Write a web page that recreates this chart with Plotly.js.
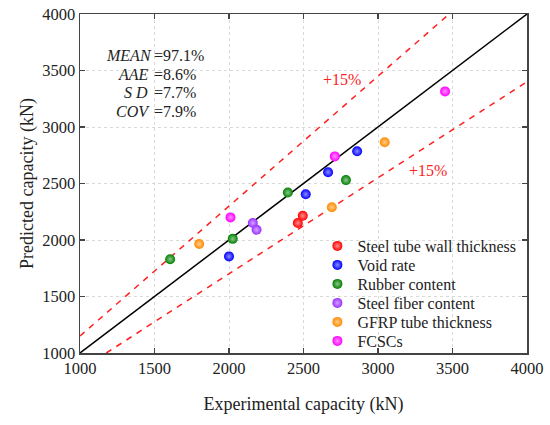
<!DOCTYPE html>
<html>
<head>
<meta charset="utf-8">
<script src="https://cdn.plot.ly/plotly-3.0.1.min.js"></script>
<style>html,body{margin:0;padding:0;background:#fff;}#chart{width:550px;height:425px;}</style>
</head>
<body>
<div id="chart"></div>
<script>
// Data (kN)
const seriesNames = ["Steel tube wall thickness","Void rate","Rubber content","Steel fiber content","GFRP tube thickness","FCSCs"];
const seriesColors = ["#ff0000","#0000ff","#008000","#9b30ff","#ff8c00","#ff00ff"];
const steelTubeExp = [2462, 2495];
const steelTubePred = [2150, 2215];
const voidRateExp = [2000, 2515, 2665, 2860];
const voidRatePred = [1855, 2405, 2600, 2785];
const rubberExp = [1605, 2025, 2395, 2785];
const rubberPred = [1830, 2010, 2420, 2530];
const steelFiberExp = [2160, 2185];
const steelFiberPred = [2150, 2090];
const gfrpExp = [1800, 2690, 3045];
const gfrpPred = [1965, 2290, 2865];
const fcscExp = [2010, 2710, 3450];
const fcscPred = [2200, 2740, 3315];
const refRange = [1000, 4000];
const upperFactor = 1.15;
const lowerFactor = 0.85;
const statLabels = ["MEAN", "AAE", "S D", "COV"];
const statValues = ["=97.1%", "=8.6%", "=7.7%", "=7.9%"];
const tickVals = [1000, 1500, 2000, 2500, 3000, 3500, 4000];

const xs = [steelTubeExp, voidRateExp, rubberExp, steelFiberExp, gfrpExp, fcscExp];
const ys = [steelTubePred, voidRatePred, rubberPred, steelFiberPred, gfrpPred, fcscPred];

function lighten(hex, f) {
  const n = parseInt(hex.slice(1), 16);
  let r = (n >> 16) & 255, g = (n >> 8) & 255, b = n & 255;
  r = Math.round(r + (255 - r) * f); g = Math.round(g + (255 - g) * f); b = Math.round(b + (255 - b) * f);
  return `rgb(${r},${g},${b})`;
}

const upX = [refRange[0], refRange[1] / upperFactor];
const upY = upX.map(v => v * upperFactor);
const loX = [refRange[0] / lowerFactor, refRange[1]];
const loY = loX.map(v => v * lowerFactor);

const fontFam = 'Liberation Serif';
const L = 79.5, R = 526.7, T = 14, B = 353;
const px = v => (v - L) / (R - L);
const py = v => (B - v) / (B - T);

const traces = [
  {x: refRange, y: refRange, mode: 'lines', line: {color: '#000', width: 1.5}, showlegend: false, hoverinfo: 'skip'},
  {x: upX, y: upY, mode: 'lines', line: {color: '#ff2020', width: 1.5, dash: '6px,6px'}, showlegend: false},
  {x: loX, y: loY, mode: 'lines', line: {color: '#ff2020', width: 1.5, dash: '6px,6px'}, showlegend: false}
];
const legendRows = [246, 265, 284, 303, 322, 341];
const legends = {};
seriesNames.forEach((name, i) => {
  const key = i === 0 ? 'legend' : 'legend' + (i + 1);
  legends[key] = {x: px(317), y: py(legendRows[i]), xanchor: 'left', yanchor: 'middle', bgcolor: 'rgba(0,0,0,0)',
                  font: {family: fontFam, size: 16, color: '#222'}, itemwidth: 30, borderwidth: 0};
  traces.push({
    x: xs[i], y: ys[i], mode: 'markers', name: name, type: 'scatter', legend: key,
    marker: {size: 10, color: seriesColors[i], line: {width: 0},
             gradient: {type: 'radial', color: lighten(seriesColors[i], 0.55)}}
  });
});

const annotations = [];
const statY = [55, 74, 93, 112];
statLabels.forEach((lab, i) => {
  annotations.push({xref: 'paper', yref: 'paper', x: px(154), y: py(statY[i]), xanchor: 'right', yanchor: 'middle',
    text: '<i>' + lab + '</i>' + (i > 0 ? '&nbsp;' : ''), showarrow: false, font: {family: fontFam, size: 16, color: '#222'}});
  annotations.push({xref: 'paper', yref: 'paper', x: px(152), y: py(statY[i]), xanchor: 'left', yanchor: 'middle',
    text: statValues[i], showarrow: false, font: {family: fontFam, size: 16, color: '#222'}});
});
annotations.push({xref: 'paper', yref: 'paper', x: px(342), y: py(80), xanchor: 'center', yanchor: 'middle',
  text: '+15%', showarrow: false, font: {family: fontFam, size: 16, color: '#ff2020'}});
annotations.push({xref: 'paper', yref: 'paper', x: px(428), y: py(170), xanchor: 'center', yanchor: 'middle',
  text: '+15%', showarrow: false, font: {family: fontFam, size: 16, color: '#ff2020'}});

const axisCommon = {
  range: refRange, tickvals: tickVals, ticks: 'inside', ticklen: 5, tickwidth: 1.2, tickcolor: '#444',
  showline: true, linecolor: '#444', linewidth: 1.5, mirror: 'ticks',
  showgrid: true, gridcolor: '#d9d9d9', griddash: 'dot', gridwidth: 1, zeroline: false,
  tickfont: {family: fontFam, size: 16.5, color: '#222'}
};

const layout = Object.assign({
  width: 550, height: 425,
  margin: {l: L, r: 550 - R, t: T, b: 425 - B},
  paper_bgcolor: '#fff', plot_bgcolor: '#fff',
  font: {family: fontFam, size: 16, color: '#222'},
  xaxis: Object.assign({}, axisCommon, {title: {text: 'Experimental capacity (kN)', font: {family: fontFam, size: 18, color: '#222'}, standoff: 20}}),
  yaxis: Object.assign({}, axisCommon, {title: {text: 'Predicted capacity (kN)', font: {family: fontFam, size: 18, color: '#222'}, standoff: 4}}),
  annotations: annotations,
  showlegend: true
}, legends);

Plotly.newPlot('chart', traces, layout, {displayModeBar: false, staticPlot: true});
</script>
</body>
</html>
